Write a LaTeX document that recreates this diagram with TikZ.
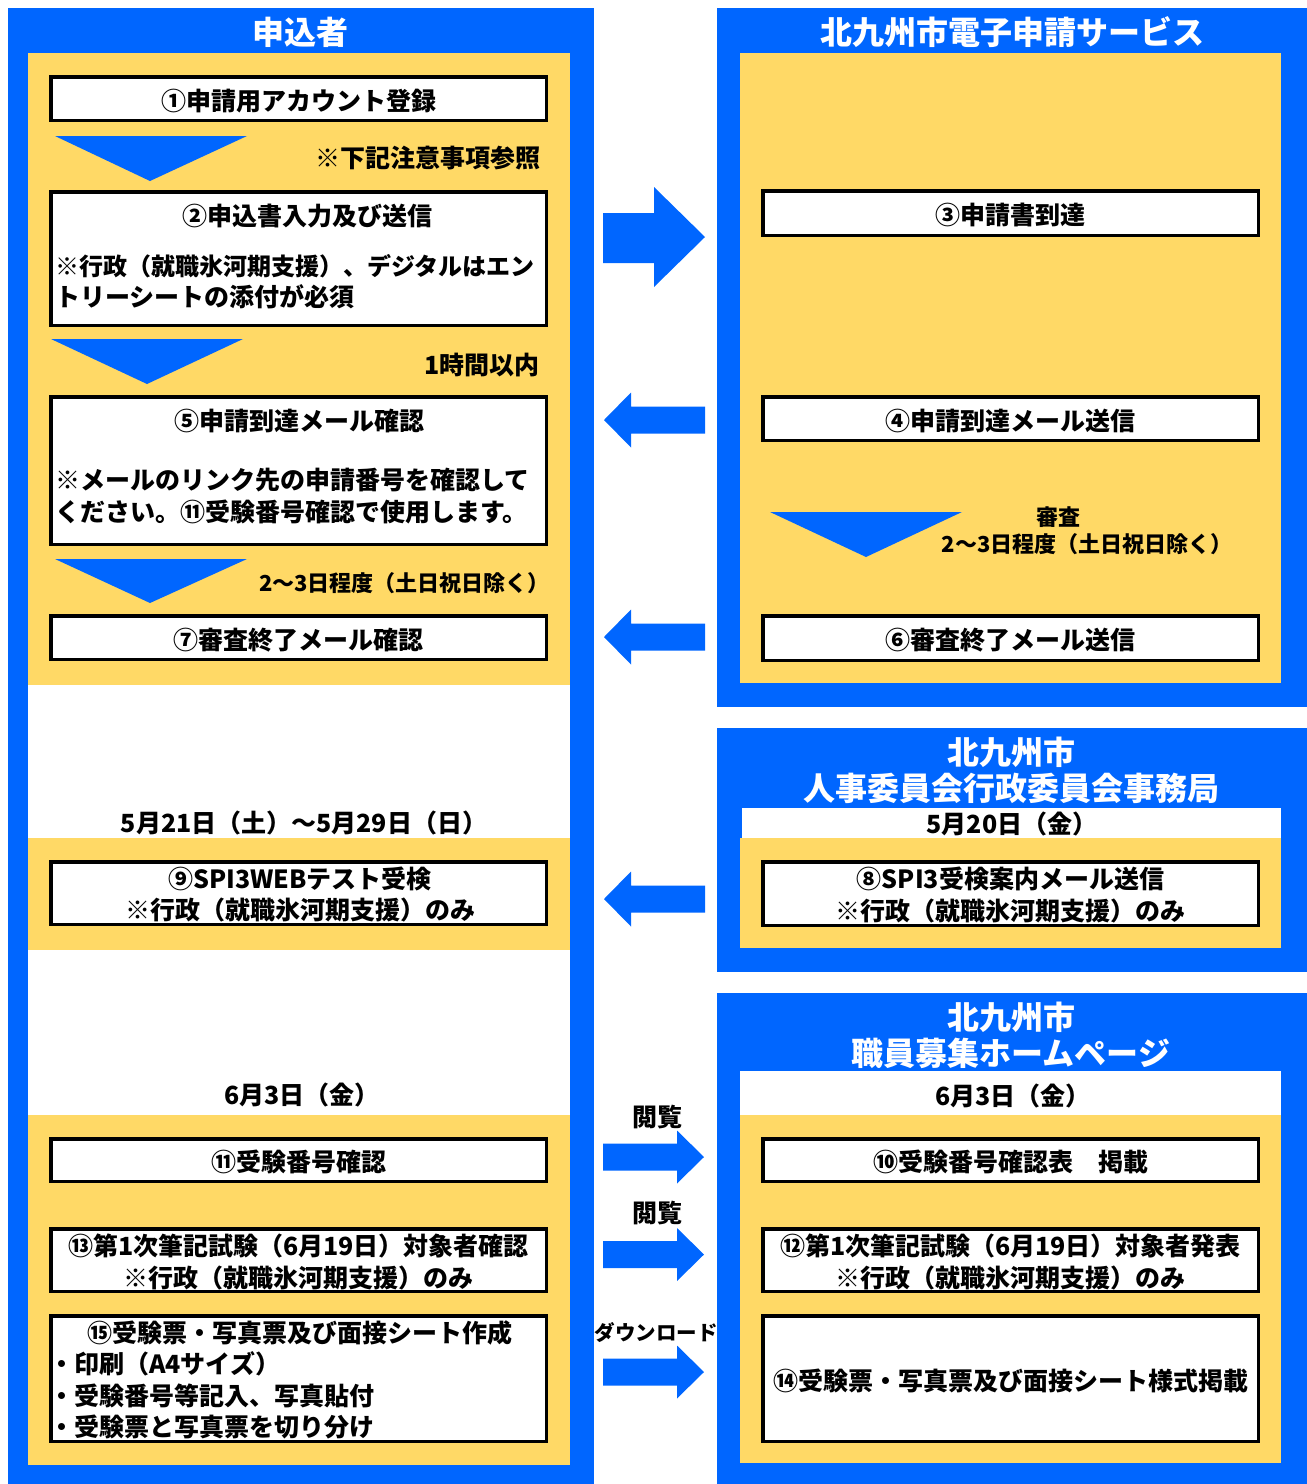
\documentclass[tikz,border=0pt]{standalone}
\usepackage{fontspec}
\setmainfont{Noto Sans CJK JP}
\definecolor{flowblue}{RGB}{0,102,255}
\definecolor{flowyellow}{RGB}{255,217,102}
\tikzset{
  stepbox/.style={draw=black, line width=3.5, fill=white, inner sep=0, minimum width=495.5, minimum height=#1, align=center, font=\fontsize{25}{31.5}\selectfont\bfseries},
  oneline/.style={text height=26, text depth=3},
  boxtext/.style={inner sep=0, font=\fontsize{25}{31.5}\selectfont\bfseries},
  paneltitle/.style={inner sep=0, text=white, align=center, font=\fontsize{32}{36}\selectfont\bfseries},
  datetext/.style={inner sep=0, font=\fontsize{25}{30}\selectfont\bfseries},
  notetext/.style={inner sep=0, font=\fontsize{25}{30}\selectfont\bfseries},
  smallnote/.style={inner sep=0, font=\fontsize{22}{27}\selectfont\bfseries},
}
\begin{document}
\begin{tikzpicture}[x=1pt,y=-1pt]
    \useasboundingbox (0,0) rectangle (1307,1484);
    % panels
    \fill [flowblue] (8,8) rectangle (594,1484);
    \fill [white] (28,53) rectangle (570,1465);
    \fill [flowyellow] (28,53) rectangle (570,685);
    \fill [flowyellow] (28,838) rectangle (570,950);
    \fill [flowyellow] (28,1115) rectangle (570,1465);
    \fill [flowblue] (717,8) rectangle (1307,707);
    \fill [flowyellow] (740,53) rectangle (1281,683);
    \fill [flowblue] (717,728) rectangle (1307,972);
    \fill [white] (742,808) rectangle (1281,838);
    \fill [flowyellow] (740,838) rectangle (1281,948);
    \fill [flowblue] (717,993) rectangle (1307,1484);
    \fill [white] (740,1071) rectangle (1281,1115);
    \fill [flowyellow] (740,1115) rectangle (1281,1463);
    \node [paneltitle] (applicant) at (300,32) {申込者};
    \node [paneltitle] (eservice) at (1012,32) {北九州市電子申請サービス};
    \node [paneltitle] (office) at (1011,770) {北九州市\\人事委員会行政委員会事務局};
    \node [paneltitle] (homepage) at (1011,1035) {北九州市\\職員募集ホームページ};
    % applicant side
    \node [stepbox=43.5, oneline] (b1) at (298.5,98.5) {①申請用アカウント登録};
    \node [stepbox=133.5] (b2) at (298.5,258.5) {};
    \node [boxtext] (b2title) at (307,216) {②申込書入力及び送信};
    \node [boxtext, font=\fontsize{24}{30}\selectfont\bfseries, anchor=west] (b2line1) at (55,266) {※行政（就職氷河期支援）、デジタルはエン};
    \node [boxtext, anchor=west] (b2line2) at (55,297) {トリーシートの添付が必須};
    \node [stepbox=147.5] (b5) at (298.5,470.5) {};
    \node [boxtext] (b5title) at (299,421) {⑤申請到達メール確認};
    \node [boxtext, anchor=west] (b5line1) at (55,480) {※メールのリンク先の申請番号を確認して};
    \node [boxtext, anchor=west] (b5line2) at (55,512) {ください。⑪受験番号確認で使用します。};
    \node [stepbox=43.5, oneline] (b7) at (298.5,637.5) {⑦審査終了メール確認};
    \node [stepbox=62.5] (b9) at (298.5,893) {};
    \node [boxtext, align=center] (b9text) at (300,894.5) {⑨SPI3WEBテスト受検\\※行政（就職氷河期支援）のみ};
    \node [stepbox=42.5, oneline] (b11) at (298.5,1160) {⑪受験番号確認};
    \node [stepbox=62.5] (b13) at (298.5,1260) {};
    \node [boxtext, align=center] (b13text) at (298.5,1262) {⑬第1次筆記試験（6月19日）対象者確認\\※行政（就職氷河期支援）のみ};
    \node [stepbox=125.5] (b15) at (298.5,1378.5) {};
    \node [boxtext] (b15title) at (300,1333) {⑮受験票・写真票及び面接シート作成};
    \node [boxtext, anchor=west] (b15line1) at (49,1364) {・印刷（A4サイズ）};
    \node [boxtext, anchor=west] (b15line2) at (49,1396) {・受験番号等記入、写真貼付};
    \node [boxtext, anchor=west] (b15line3) at (49,1427) {・受験票と写真票を切り分け};
    \fill [flowblue] (55,136) -- (247,136) -- (150,181) -- cycle;
    \fill [flowblue] (51,339) -- (243,339) -- (147,384) -- cycle;
    \fill [flowblue] (55,559) -- (247,559) -- (150,603) -- cycle;
    \node [notetext, anchor=east] (note1) at (541,158) {※下記注意事項参照};
    \node [notetext, anchor=east] (note2) at (540,365) {1時間以内};
    \node [smallnote, anchor=east] (note3) at (550,583) {2～3日程度（土日祝日除く）};
    \node [datetext] (date1) at (304,823) {5月21日（土）～5月29日（日）};
    \node [datetext] (date2) at (302,1095) {6月3日（金）};
    % city side
    \node [stepbox=44.5, oneline] (b3) at (1010.5,213) {③申請書到達};
    \node [stepbox=43.5, oneline] (b4) at (1010.5,418.5) {④申請到達メール送信};
    \node [stepbox=44.5, oneline] (b6) at (1010.5,638) {⑥審査終了メール送信};
    \fill [flowblue] (770,512) -- (962,512) -- (866,557) -- cycle;
    \node [smallnote] (note4) at (1058,517) {審査};
    \node [smallnote] (note5) at (1087,544) {2～3日程度（土日祝日除く）};
    \node [datetext] (date3) at (1012,824) {5月20日（金）};
    \node [stepbox=63.5] (b8) at (1010.5,893.5) {};
    \node [boxtext, align=center] (b8text) at (1010.5,895) {⑧SPI3受検案内メール送信\\※行政（就職氷河期支援）のみ};
    \node [datetext] (date4) at (1013,1096) {6月3日（金）};
    \node [stepbox=42.5, oneline] (b10) at (1010.5,1160) {⑩受験番号確認表　掲載};
    \node [stepbox=62.5] (b12) at (1010.5,1260) {};
    \node [boxtext, align=center] (b12text) at (1010.5,1262) {⑫第1次筆記試験（6月19日）対象者発表\\※行政（就職氷河期支援）のみ};
    \node [stepbox=125.5, oneline] (b14) at (1010.5,1378.5) {⑭受験票・写真票及び面接シート様式掲載};
    % block arrows
    \fill [flowblue] (603,213) -- (654,213) -- (654,187) -- (705,237) -- (654,287) -- (654,263) -- (603,263) -- cycle;
    \foreach \cy in {420,637,899}
        \fill [flowblue] (604,\cy) -- (631,\cy-27.5) -- (631,\cy-13.5) -- (705,\cy-13.5) -- (705,\cy+13.5) -- (631,\cy+13.5) -- (631,\cy+27.5) -- cycle;
    \foreach \cy in {1157,1254.5,1372}
        \fill [flowblue] (704,\cy) -- (677,\cy-26.5) -- (677,\cy-13.5) -- (603,\cy-13.5) -- (603,\cy+13.5) -- (677,\cy+13.5) -- (677,\cy+26.5) -- cycle;
    \node [notetext] (view1) at (657,1117) {閲覧};
    \node [notetext] (view2) at (657,1213) {閲覧};
    \node [inner sep=0, font=\fontsize{20.5}{24}\selectfont\bfseries] (download) at (656,1333) {ダウンロード};
\end{tikzpicture}
\end{document}
